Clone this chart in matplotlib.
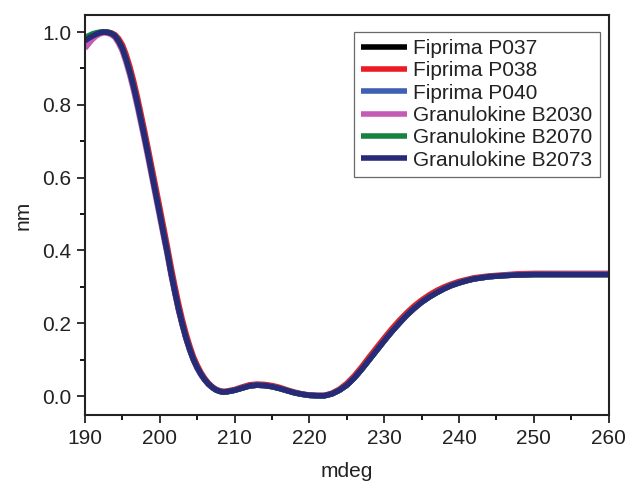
import matplotlib.pyplot as plt
from matplotlib.ticker import MultipleLocator

plt.rcParams['font.family'] = ['Liberation Sans', 'DejaVu Sans']

# wavelength grid: 0.5 nm steps 190-209, 1 nm steps 210-242, then coarser
wavelength = [190, 190.5, 191, 191.5, 192, 192.5, 193, 193.5, 194, 194.5,
              195, 195.5, 196, 196.5, 197, 197.5, 198, 198.5, 199, 199.5,
              200, 200.5, 201, 201.5, 202, 202.5, 203, 203.5, 204, 204.5,
              205, 205.5, 206, 206.5, 207, 207.5, 208, 208.5, 209,
              210, 211, 212, 213, 214, 215, 216, 217, 218, 219,
              220, 221, 222, 223, 224, 225, 226, 227, 228, 229,
              230, 231, 232, 233, 234, 235, 236, 237, 238, 239,
              240, 241, 242,
              244, 246, 248, 250, 255, 260]

p037 = [0.972, 0.981, 0.988, 0.994, 0.998, 1.000, 0.999, 0.996, 0.990, 0.975,
        0.955, 0.925, 0.890, 0.850, 0.805, 0.757, 0.708, 0.657, 0.604, 0.552,
        0.500, 0.447, 0.395, 0.339, 0.288, 0.240, 0.198, 0.160, 0.128, 0.100,
        0.078, 0.060, 0.045, 0.033, 0.024, 0.017, 0.013, 0.011, 0.012,
        0.016, 0.022, 0.028, 0.030, 0.029, 0.026, 0.021, 0.015, 0.009, 0.005,
        0.002, 0.001, 0.001, 0.006, 0.016, 0.030, 0.050, 0.074, 0.100, 0.126,
        0.152, 0.177, 0.200, 0.222, 0.241, 0.258, 0.272, 0.284, 0.295, 0.304,
        0.311, 0.317, 0.322,
        0.328, 0.331, 0.333, 0.334, 0.334, 0.334]

p038 = [0.970, 0.980, 0.988, 0.994, 0.998, 1.000, 1.000, 0.998, 0.993, 0.982,
        0.965, 0.938, 0.905, 0.866, 0.822, 0.774, 0.725, 0.674, 0.622, 0.570,
        0.518, 0.465, 0.412, 0.356, 0.304, 0.255, 0.211, 0.172, 0.138, 0.108,
        0.085, 0.065, 0.049, 0.036, 0.026, 0.019, 0.015, 0.013, 0.014,
        0.018, 0.025, 0.031, 0.033, 0.032, 0.029, 0.024, 0.017, 0.011, 0.006,
        0.003, 0.002, 0.002, 0.008, 0.019, 0.035, 0.056, 0.081, 0.108, 0.134,
        0.160, 0.185, 0.208, 0.229, 0.248, 0.264, 0.278, 0.290, 0.300, 0.308,
        0.315, 0.320, 0.325,
        0.330, 0.333, 0.336, 0.337, 0.337, 0.337]

p040 = [0.970, 0.980, 0.988, 0.994, 0.998, 1.000, 0.999, 0.996, 0.990, 0.975,
        0.955, 0.925, 0.890, 0.850, 0.805, 0.757, 0.708, 0.657, 0.604, 0.552,
        0.500, 0.447, 0.395, 0.339, 0.288, 0.240, 0.198, 0.160, 0.128, 0.100,
        0.078, 0.060, 0.045, 0.033, 0.024, 0.017, 0.013, 0.011, 0.012,
        0.016, 0.022, 0.028, 0.030, 0.029, 0.026, 0.021, 0.015, 0.009, 0.005,
        0.002, 0.001, 0.001, 0.006, 0.016, 0.030, 0.050, 0.074, 0.100, 0.126,
        0.152, 0.177, 0.200, 0.222, 0.241, 0.258, 0.272, 0.284, 0.295, 0.304,
        0.311, 0.317, 0.322,
        0.328, 0.331, 0.333, 0.334, 0.334, 0.334]

b2030 = [0.955, 0.968, 0.980, 0.989, 0.995, 0.998, 0.997, 0.993, 0.985, 0.969,
         0.947, 0.916, 0.880, 0.839, 0.794, 0.746, 0.697, 0.646, 0.594, 0.542,
         0.490, 0.438, 0.387, 0.332, 0.282, 0.235, 0.194, 0.157, 0.125, 0.098,
         0.076, 0.058, 0.044, 0.032, 0.023, 0.017, 0.013, 0.011, 0.012,
         0.016, 0.022, 0.028, 0.030, 0.029, 0.026, 0.021, 0.015, 0.009, 0.005,
         0.002, 0.001, 0.001, 0.006, 0.016, 0.030, 0.050, 0.074, 0.100, 0.126,
         0.152, 0.177, 0.200, 0.222, 0.241, 0.258, 0.272, 0.284, 0.295, 0.304,
         0.311, 0.317, 0.322,
         0.328, 0.332, 0.334, 0.335, 0.336, 0.336]

b2070 = [0.985, 0.990, 0.995, 0.998, 1.000, 1.001, 1.000, 0.997, 0.990, 0.975,
         0.955, 0.925, 0.890, 0.850, 0.805, 0.757, 0.708, 0.657, 0.604, 0.552,
         0.500, 0.447, 0.395, 0.339, 0.288, 0.240, 0.198, 0.160, 0.128, 0.100,
         0.078, 0.060, 0.045, 0.033, 0.024, 0.017, 0.013, 0.011, 0.012,
         0.016, 0.022, 0.028, 0.030, 0.029, 0.026, 0.021, 0.015, 0.009, 0.005,
         0.002, 0.001, 0.001, 0.006, 0.016, 0.030, 0.050, 0.074, 0.100, 0.126,
         0.152, 0.177, 0.200, 0.222, 0.241, 0.258, 0.272, 0.284, 0.295, 0.304,
         0.311, 0.317, 0.322,
         0.328, 0.331, 0.333, 0.334, 0.334, 0.334]

b2073 = [0.976, 0.983, 0.989, 0.994, 0.998, 1.000, 0.999, 0.996, 0.990, 0.975,
         0.955, 0.925, 0.890, 0.850, 0.805, 0.757, 0.708, 0.657, 0.604, 0.552,
         0.500, 0.447, 0.395, 0.339, 0.288, 0.240, 0.198, 0.160, 0.128, 0.100,
         0.078, 0.060, 0.045, 0.033, 0.024, 0.017, 0.013, 0.011, 0.012,
         0.016, 0.022, 0.028, 0.030, 0.029, 0.026, 0.021, 0.015, 0.009, 0.005,
         0.002, 0.001, 0.001, 0.006, 0.016, 0.030, 0.050, 0.074, 0.100, 0.126,
         0.152, 0.177, 0.200, 0.222, 0.241, 0.258, 0.272, 0.284, 0.295, 0.304,
         0.311, 0.317, 0.322,
         0.328, 0.331, 0.333, 0.334, 0.334, 0.334]

series = [("Fiprima P037", p037, "#000000"),
          ("Fiprima P038", p038, "#ed1c24"),
          ("Fiprima P040", p040, "#3f5fb5"),
          ("Granulokine B2030", b2030, "#c45cb4"),
          ("Granulokine B2070", b2070, "#18823f"),
          ("Granulokine B2073", b2073, "#262a78")]

fig = plt.figure(figsize=(6.31, 4.82), dpi=100)
ax = fig.add_axes([0.1347, 0.139, 0.830, 0.830])

for name, vals, col in series:
    ax.plot(wavelength, vals, color=col, lw=4, label=name,
            solid_joinstyle='round', solid_capstyle='butt')

ax.set_xlim(190, 260)
ax.set_ylim(-0.052, 1.047)
ax.xaxis.set_major_locator(MultipleLocator(10))
ax.xaxis.set_minor_locator(MultipleLocator(5))
ax.yaxis.set_major_locator(MultipleLocator(0.2))
ax.yaxis.set_minor_locator(MultipleLocator(0.1))
ax.tick_params(which='major', direction='out', length=6, width=1.3,
               labelsize=15, colors='#222222', pad=4)
ax.tick_params(which='minor', direction='out', length=3.5, width=1.3)
for sp in ax.spines.values():
    sp.set_linewidth(1.5)
    sp.set_color('#222222')

ax.set_xlabel("mdeg", fontsize=15, color='#222222', labelpad=10)
ax.set_ylabel("nm", fontsize=15, color='#222222', labelpad=7)

leg = ax.legend(loc='upper right', bbox_to_anchor=(0.983, 0.958), fontsize=15,
                frameon=True, fancybox=False, handlelength=2.2,
                handletextpad=0.3, labelspacing=0.16, borderpad=0.35,
                borderaxespad=0)
leg.get_frame().set_edgecolor('#444444')
leg.get_frame().set_linewidth(0.9)
for t in leg.get_texts():
    t.set_color('#222222')

fig.savefig("out.png", dpi=100)
